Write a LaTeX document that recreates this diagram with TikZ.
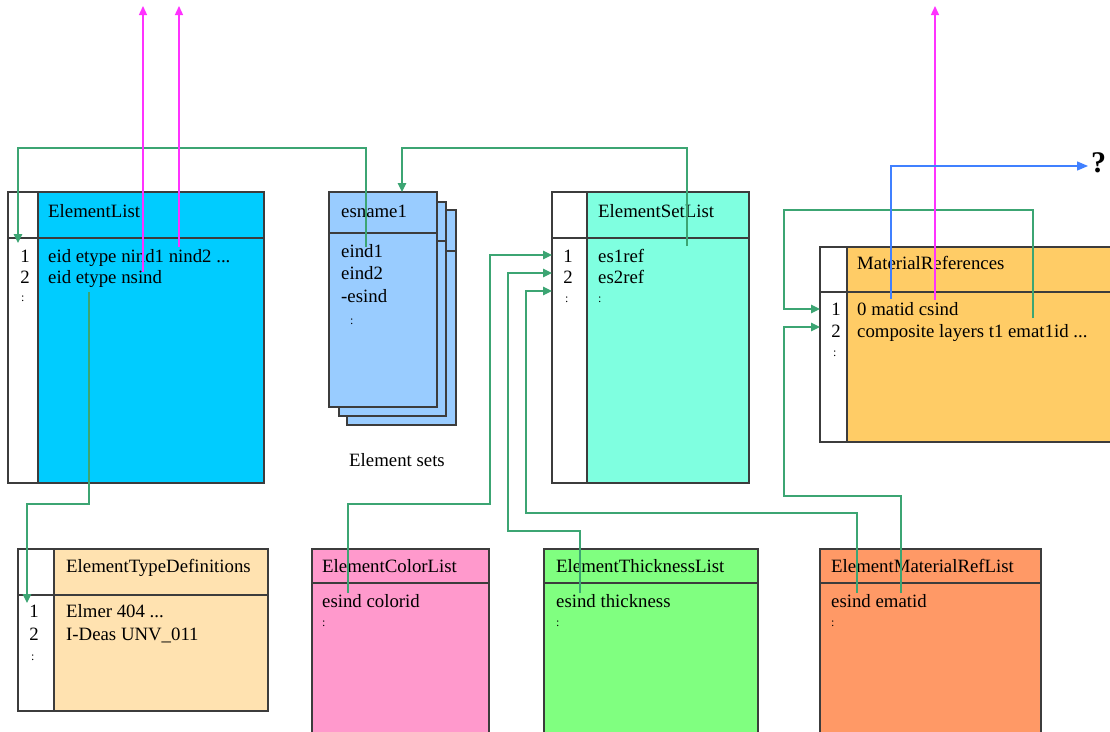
\documentclass[tikz,border=0pt]{standalone}
\usepackage{fontspec}
\setmainfont{Liberation Serif}
\usetikzlibrary{arrows.meta}
\definecolor{boxline}{RGB}{60,60,60}
\definecolor{cyanbox}{RGB}{0,204,255}
\definecolor{esblue}{RGB}{153,204,255}
\definecolor{aquabox}{RGB}{127,255,224}
\definecolor{matbox}{RGB}{255,204,102}
\definecolor{etdbox}{RGB}{255,226,176}
\definecolor{pinkbox}{RGB}{255,153,204}
\definecolor{greenbox}{RGB}{128,255,128}
\definecolor{orangebox}{RGB}{255,153,102}
\definecolor{conngreen}{RGB}{60,165,115}
\definecolor{connmag}{RGB}{255,50,255}
\definecolor{connblue}{RGB}{64,128,255}
\begin{document}
\begin{tikzpicture}[x=1pt,y=-1pt,
  box/.style={draw=boxline, line width=1.3pt, anchor=north west, inner sep=0pt, outer sep=0pt},
  divider/.style={draw=boxline, line width=1.3pt},
  lbl/.style={anchor=base west, inner sep=0pt, font=\fontsize{18.8}{22}\selectfont},
  idx/.style={anchor=base east, inner sep=0pt, font=\fontsize{18.8}{22}\selectfont},
  dots/.style={anchor=base west, inner sep=0pt, font=\fontsize{12}{14}\selectfont},
  gconn/.style={draw=conngreen, line width=1.2pt},
  garrow/.style={gconn, -{Triangle[length=9pt,width=8.5pt]}},
  marrow/.style={draw=connmag, line width=1.4pt, -{Triangle[length=9pt,width=8pt]}},
  barrow/.style={draw=connblue, line width=1.3pt, -{Triangle[length=11pt,width=9pt]}}
]
\useasboundingbox (0,0) rectangle (1110,731);
\clip (0,0) rectangle (1110,731);
\fill[white] (0,0) rectangle (1110,731);

% ---------- ElementList ----------
\node[box, fill=white, minimum width=30pt, minimum height=291pt] (elidx) at (8,192) {};
\node[box, fill=cyanbox, minimum width=226pt, minimum height=291pt] (el) at (38,192) {};
\draw[divider] (8,238) -- (264,238);
\node[lbl] (elh) at (48,217) {ElementList};
\node[idx] (el1n) at (30,262) {1};
\node[idx] (el2n) at (30,283) {2};
\node[dots] (el3n) at (21,301) {:};
\node[lbl] (elr1) at (48,262) {eid etype nind1 nind2 ...};
\node[lbl] (elr2) at (48,283) {eid etype nsind};

% ---------- esname stack ----------
\node[box, fill=esblue, minimum width=109pt, minimum height=215pt] (es3) at (347,210) {};
\draw[divider] (347,251) -- (456,251);
\node[box, fill=esblue, minimum width=107pt, minimum height=214pt] (es2) at (339,202) {};
\draw[divider] (339,241) -- (446,241);
\node[box, fill=esblue, minimum width=108pt, minimum height=215pt] (es1) at (329,192) {};
\draw[divider] (329,233) -- (437,233);
\node[lbl] (esh) at (341,217) {esname1};
\node[lbl] (esr1) at (341,257) {eind1};
\node[lbl] (esr2) at (341,279) {eind2};
\node[lbl] (esr3) at (341,302) {-esind};
\node[dots] (esr4) at (350,324) {:};
\node[lbl, anchor=base] (essets) at (397,466) {Element sets};

% ---------- ElementSetList ----------
\node[box, fill=white, minimum width=35pt, minimum height=291pt] (eslidx) at (552,192) {};
\node[box, fill=aquabox, minimum width=162pt, minimum height=291pt] (esl) at (587,192) {};
\draw[divider] (552,238) -- (749,238);
\node[lbl] (eslh) at (598,217) {ElementSetList};
\node[idx] (esl1n) at (573,262) {1};
\node[idx] (esl2n) at (573,283) {2};
\node[dots] (esl3n) at (565,302) {:};
\node[lbl] (eslr1) at (598,262) {es1ref};
\node[lbl] (eslr2) at (598,283) {es2ref};
\node[dots] (eslr3) at (598,302) {:};

% ---------- MaterialReferences ----------
\node[box, fill=white, minimum width=27pt, minimum height=195pt] (mridx) at (820,247) {};
\node[box, fill=matbox, minimum width=270pt, minimum height=195pt] (mr) at (847,247) {};
\draw[divider] (820,292) -- (1120,292);
\node[lbl] (mrh) at (857,269) {MaterialReferences};
\node[idx] (mr1n) at (841,315) {1};
\node[idx] (mr2n) at (841,337) {2};
\node[dots] (mr3n) at (833,356) {:};
\node[lbl] (mrr1) at (857,315) {0 matid csind};
\node[lbl] (mrr2) at (857,337) {composite layers t1 emat1id ...};
\node[anchor=base west, inner sep=0pt, font=\fontsize{30}{34}\selectfont\bfseries] (qm) at (1091,172) {?};

% ---------- ElementTypeDefinitions ----------
\node[box, fill=white, minimum width=36pt, minimum height=162pt] (etdidx) at (18,549) {};
\node[box, fill=etdbox, minimum width=214pt, minimum height=162pt] (etd) at (54,549) {};
\draw[divider] (18,595) -- (268,595);
\node[lbl] (etdh) at (66,572) {ElementTypeDefinitions};
\node[idx] (etd1n) at (39,617) {1};
\node[idx] (etd2n) at (39,640) {2};
\node[dots] (etd3n) at (31,660) {:};
\node[lbl] (etdr1) at (66,617) {Elmer 404 ...};
\node[lbl] (etdr2) at (66,640) {I-Deas UNV\_011};

% ---------- ElementColorList ----------
\node[box, fill=pinkbox, minimum width=177pt, minimum height=200pt] (ecl) at (312,549) {};
\draw[divider] (312,583) -- (489,583);
\node[lbl] (eclh) at (322,572) {ElementColorList};
\node[lbl] (eclr1) at (322,607) {esind colorid};
\node[dots] (eclr2) at (322,626) {:};

% ---------- ElementThicknessList ----------
\node[box, fill=greenbox, minimum width=214pt, minimum height=200pt] (etl) at (544,549) {};
\draw[divider] (544,583) -- (758,583);
\node[lbl] (etlh) at (556,572) {ElementThicknessList};
\node[lbl] (etlr1) at (556,607) {esind thickness};
\node[dots] (etlr2) at (556,626) {:};

% ---------- ElementMaterialRefList ----------
\node[box, fill=orangebox, minimum width=221pt, minimum height=200pt] (emr) at (820,549) {};
\draw[divider] (820,583) -- (1041,583);
\node[lbl] (emrh) at (831,572) {ElementMaterialRefList};
\node[lbl] (emrr1) at (831,607) {esind ematid};
\node[dots] (emrr2) at (831,626) {:};

% ---------- connector end points ----------
\coordinate (pEind1) at (366,247);
\coordinate (pElRow1) at (18,243);
\coordinate (pEs1ref) at (687,246);
\coordinate (pEsTop) at (402,192);
\coordinate (pNind1) at (143,272);
\coordinate (pNind2) at (179,247);
\coordinate (pCsind) at (935,300);
\coordinate (pUp1) at (143,6);
\coordinate (pUp2) at (179,6);
\coordinate (pUp3) at (935,6);
\coordinate (pNsind) at (89,292);
\coordinate (pEtdRow1) at (27,603);
\coordinate (pColor) at (348,593);
\coordinate (pThick) at (580,593);
\coordinate (pEmr1) at (857,593);
\coordinate (pEmr2) at (901,593);
\coordinate (pEsl1) at (552,255);
\coordinate (pEsl2) at (552,273);
\coordinate (pEsl3) at (552,291);
\coordinate (pMr1) at (820,309);
\coordinate (pMr2) at (820,327);
\coordinate (pEmat) at (1033,318);
\coordinate (pMatid) at (891,299);
\coordinate (pQ) at (1088,166);

% ---------- connectors ----------
\draw[garrow] (pEind1) -- (366,148) -- (18,148) -- (pElRow1);
\draw[garrow] (pEs1ref) -- (687,148) -- (402,148) -- (pEsTop);
\draw[garrow] (pNsind) -- (89,504) -- (27,504) -- (pEtdRow1);
\draw[garrow] (pColor) -- (348,504) -- (490,504) -- (490,255) -- (pEsl1);
\draw[garrow] (pThick) -- (580,531) -- (508,531) -- (508,273) -- (pEsl2);
\draw[garrow] (pEmr1) -- (857,513) -- (526,513) -- (526,291) -- (pEsl3);
\draw[garrow] (pEmr2) -- (901,496) -- (784,496) -- (784,327) -- (pMr2);
\draw[garrow] (pEmat) -- (1033,210) -- (784,210) -- (784,309) -- (pMr1);
\draw[marrow] (pNind1) -- (pUp1);
\draw[marrow] (pNind2) -- (pUp2);
\draw[marrow] (pCsind) -- (pUp3);
\draw[barrow] (pMatid) -- (891,166) -- (pQ);
\end{tikzpicture}
\end{document}
